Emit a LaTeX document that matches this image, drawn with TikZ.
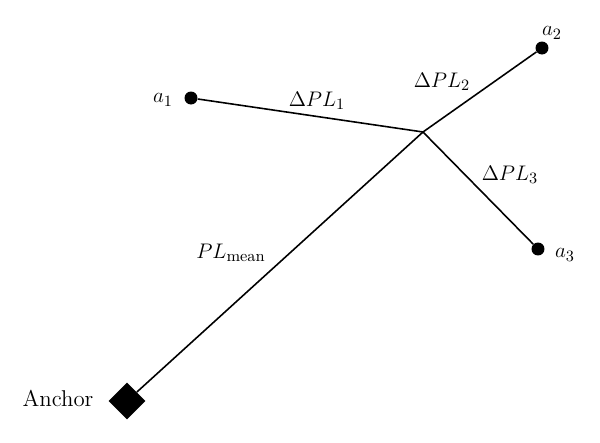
\documentclass[tikz,border=0pt]{standalone}
\usepackage{amsmath}
\usetikzlibrary{shapes.geometric}

\begin{document}
\begin{tikzpicture}[x=0.02cm, y=-0.02cm,
    sensor/.style={circle, fill=black, inner sep=0pt, minimum size=0.26cm},
    anchorbox/.style={diamond, fill=black, inner sep=0pt, minimum width=0.74cm, minimum height=0.74cm},
    link/.style={line width=0.9pt},
    lbl/.style={font=\fontsize{13}{15}\selectfont}]
    \useasboundingbox (0,0) rectangle (600,443);

    % anchor and the three nodes
    \node[anchorbox] (anc) at (127,401) {};
    \node[sensor] (a1) at (191,98) {};
    \node[sensor] (a2) at (542,48) {};
    \node[sensor] (a3) at (538,249) {};
    \coordinate (mid) at (423,132);

    \draw[link] (anc) -- (mid);
    \draw[link] (a1) -- (mid);
    \draw[link] (mid) -- (a2);
    \draw[link] (mid) -- (a3);

    % labels
    \node[lbl] (lanc) at (58,398) {Anchor};
    \node[lbl] (la1) at (163,100) {$a_1$};
    \node[lbl] (la2) at (552,33) {$a_2$};
    \node[lbl] (la3) at (565,255) {$a_3$};
    \node[lbl] (dpl1) at (317,101) {$\Delta PL_1$};
    \node[lbl] (dpl2) at (442,82) {$\Delta PL_2$};
    \node[lbl] (dpl3) at (510,175) {$\Delta PL_3$};
    \node[lbl] (plm) at (231,253) {$PL_{\text{mean}}$};

\end{tikzpicture}
\end{document}
